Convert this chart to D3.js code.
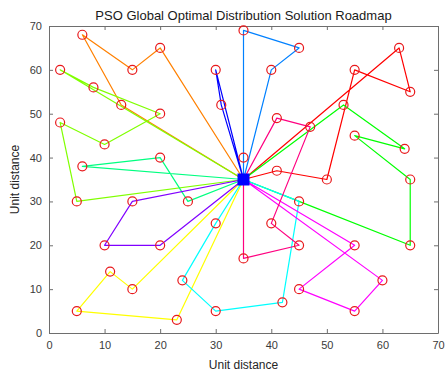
<!DOCTYPE html>
<html>
<head>
<meta charset="utf-8">
<script src="https://cdn.jsdelivr.net/npm/d3@7"></script>
<style>
  body { margin: 0; background: #fff; }
  svg { display: block; font-family: "Liberation Sans", Arial, sans-serif; }
</style>
</head>
<body>
<div id="chart"></div>
<script>
// customer coordinates (unit distance)
const custX = [6, 20, 15, 2, 8, 13, 20, 2, 10, 6, 20, 30, 31, 35, 45, 40, 35, 63, 55, 65, 53, 41, 47, 55, 64, 41, 50, 65, 5, 15, 25, 30, 10, 20, 11, 15, 24, 5, 23, 30, 45, 40, 45, 55, 65, 35, 60, 45, 42, 55];
const custY = [68, 65, 60, 60, 56, 52, 50, 48, 43, 38, 40, 60, 52, 69, 65, 60, 40, 65, 60, 55, 52, 49, 47, 45, 42, 37, 35, 35, 30, 30, 30, 25, 20, 20, 14, 10, 12, 5, 3, 5, 30, 25, 20, 20, 20, 17, 12, 10, 7, 5];
const depot = [35, 35];

// vehicle routes, as customer indices (each starts and ends at the depot)
const routes = [
  [25, 26, 18, 19, 17],
  [1, 2, 0, 5],
  [35, 34, 37, 38],
  [3, 4, 6, 8, 7, 28],
  [20, 24, 23, 27, 44, 40],
  [9, 10, 30],
  [40, 48, 39, 36, 31],
  [16, 13, 14, 15],
  [12, 11],
  [29, 32, 33],
  [43, 47, 49, 46],
  [21, 22, 41, 42, 45]
];

const xTicks = [0, 10, 20, 30, 40, 50, 60, 70];
const yTicks = [0, 10, 20, 30, 40, 50, 60, 70];

const width = 446, height = 372;
const margin = { top: 26, right: 8, bottom: 39, left: 49 };
const iw = width - margin.left - margin.right;
const ih = height - margin.top - margin.bottom;

const x = d3.scaleLinear().domain([0, 70]).range([0, iw]);
const y = d3.scaleLinear().domain([0, 70]).range([ih, 0]);
const color = i => d3.hsl(360 * i / routes.length, 1, 0.5).toString();

const svg = d3.select('#chart').append('svg')
  .attr('width', width)
  .attr('height', height);

const g = svg.append('g')
  .attr('transform', `translate(${margin.left},${margin.top})`);

const axisColor = '#6e6e6e';
const tickLen = 4;

// axes with inward ticks on all four sides
const addAxis = (axis, tx, ty) => {
  const a = g.append('g')
    .attr('transform', `translate(${tx},${ty})`)
    .call(axis);
  a.select('.domain').attr('stroke', axisColor);
  a.selectAll('.tick line').attr('stroke', axisColor);
  a.selectAll('.tick text').attr('fill', '#3a3a3a').style('font-size', '11px');
  return a;
};
addAxis(d3.axisBottom(x).tickValues(xTicks).tickSizeInner(-tickLen).tickSizeOuter(0).tickPadding(8), 0, ih);
addAxis(d3.axisTop(x).tickValues(xTicks).tickSizeInner(-tickLen).tickSizeOuter(0).tickFormat(''), 0, 0);
addAxis(d3.axisLeft(y).tickValues(yTicks).tickSizeInner(-tickLen).tickSizeOuter(0).tickPadding(7), 0, 0);
addAxis(d3.axisRight(y).tickValues(yTicks).tickSizeInner(-tickLen).tickSizeOuter(0).tickFormat(''), iw, 0);

// routes
const line = d3.line().x(d => x(d[0])).y(d => y(d[1]));
routes.forEach((r, i) => {
  const pts = [depot].concat(r.map(k => [custX[k], custY[k]]), [depot]);
  g.append('path')
    .attr('d', line(pts))
    .attr('fill', 'none')
    .attr('stroke', color(i))
    .attr('stroke-width', 1.2)
    .attr('stroke-linejoin', 'round');
});

// customers
g.selectAll('circle.cust')
  .data(custX.map((v, i) => [v, custY[i]]))
  .enter().append('circle')
    .attr('class', 'cust')
    .attr('cx', d => x(d[0]))
    .attr('cy', d => y(d[1]))
    .attr('r', 4.5)
    .attr('fill', 'none')
    .attr('stroke', '#e8191c')
    .attr('stroke-width', 1.2);

// depot
g.append('rect')
  .attr('x', x(depot[0]) - 6)
  .attr('y', y(depot[1]) - 6)
  .attr('width', 12)
  .attr('height', 12)
  .attr('fill', '#0000ff');

// labels
svg.append('text')
  .attr('x', margin.left + iw / 2)
  .attr('y', 20)
  .attr('text-anchor', 'middle')
  .attr('fill', '#1a1a1a')
  .style('font-size', '13px')
  .text('PSO Global Optimal Distribution Solution Roadmap');

svg.append('text')
  .attr('x', margin.left + iw / 2)
  .attr('y', 369)
  .attr('text-anchor', 'middle')
  .attr('fill', '#262626')
  .style('font-size', '12px')
  .text('Unit distance');

svg.append('text')
  .attr('transform', `translate(19,${margin.top + ih / 2}) rotate(-90)`)
  .attr('text-anchor', 'middle')
  .attr('fill', '#262626')
  .style('font-size', '12px')
  .text('Unit distance');
</script>
</body>
</html>
